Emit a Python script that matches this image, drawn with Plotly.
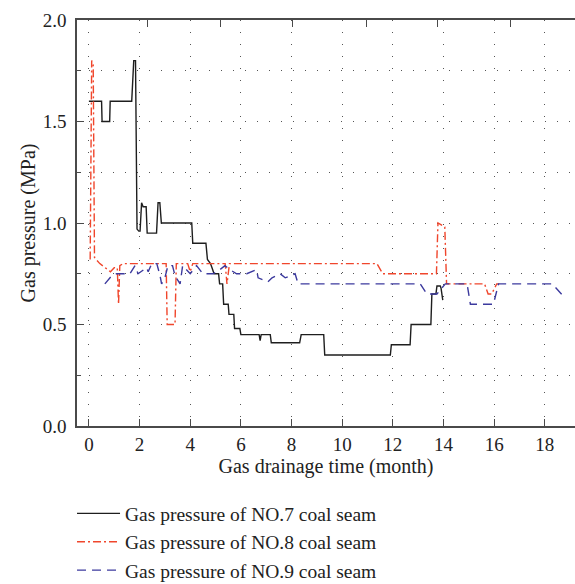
import plotly.graph_objects as go

# NO.7 coal seam (black solid)
t7 = [0.0, 0.50, 0.52, 0.82, 0.84, 1.69, 1.77, 1.84, 1.90, 1.97, 2.02, 2.08, 2.14, 2.26, 2.30,
      2.67, 2.73, 2.80, 2.86, 4.06, 4.10, 4.62, 4.68, 4.80, 4.86, 4.94, 5.12, 5.16, 5.28, 5.32,
      5.50, 5.53, 5.72, 5.75, 5.96, 6.00, 6.72, 6.76, 6.80, 7.16, 7.20, 8.32, 8.38, 9.27, 9.31,
      11.90, 11.94, 12.68, 12.72, 13.50, 13.54, 13.70, 13.74, 13.87, 13.90, 13.97]
p7 = [1.60, 1.60, 1.50, 1.50, 1.60, 1.60, 1.80, 1.80, 0.97, 0.96, 0.96, 1.10, 1.08, 1.08, 0.95,
      0.95, 1.10, 1.10, 1.00, 1.00, 0.90, 0.90, 0.82, 0.80, 0.78, 0.75, 0.75, 0.70, 0.70, 0.60,
      0.60, 0.55, 0.55, 0.48, 0.48, 0.45, 0.45, 0.42, 0.45, 0.45, 0.41, 0.41, 0.45, 0.45, 0.35,
      0.35, 0.40, 0.40, 0.50, 0.50, 0.65, 0.65, 0.69, 0.69, 0.68, 0.62]

# NO.8 coal seam (red dash-dot)
t8 = [0.05, 0.11, 0.17, 0.22, 0.43, 0.85, 1.00, 1.12, 1.17, 1.22, 1.35, 3.05, 3.09, 3.40, 3.45,
      3.90, 4.00, 4.10, 5.38, 5.45, 5.55, 11.37, 11.60, 13.72, 13.78, 14.05, 14.12, 15.62, 15.76,
      15.90, 16.10, 16.20]
p8 = [0.82, 1.80, 1.78, 0.83, 0.80, 0.76, 0.78, 0.78, 0.60, 0.79, 0.80, 0.80, 0.50, 0.50, 0.80,
      0.80, 0.76, 0.80, 0.80, 0.70, 0.80, 0.80, 0.75, 0.75, 1.00, 0.98, 0.70, 0.70, 0.65,
      0.65, 0.70, 0.70]

# NO.9 coal seam (blue dashed)
t9 = [0.63, 0.90, 1.09, 1.62, 1.82, 1.94, 2.28, 2.34, 2.48, 2.68, 2.81, 2.87, 3.00, 3.12, 3.30,
      3.40, 3.60, 3.70, 4.00, 4.25, 4.50, 4.90, 5.17, 5.37, 5.57, 5.83, 6.23, 6.62, 6.68, 7.07,
      7.23, 7.55, 7.75, 8.14, 8.26, 13.08, 13.34, 13.74, 14.07, 14.93, 15.06, 15.97, 16.17,
      18.29, 18.73]
p9 = [0.70, 0.74, 0.75, 0.75, 0.79, 0.75, 0.78, 0.76, 0.80, 0.80, 0.74, 0.70, 0.73, 0.79, 0.79,
      0.74, 0.70, 0.79, 0.75, 0.79, 0.75, 0.75, 0.77, 0.79, 0.77, 0.75, 0.75, 0.77, 0.73, 0.71,
      0.73, 0.75, 0.73, 0.75, 0.70, 0.70, 0.65, 0.65, 0.70, 0.70, 0.60, 0.60, 0.70,
      0.70, 0.64]

x_ticks = [0, 2, 4, 6, 8, 10, 12, 14, 16, 18]
top_ticks = [2.33, 5.21, 8.05, 10.94, 13.78, 16.66]
names = ["Gas pressure of NO.7 coal seam",
         "Gas pressure of NO.8 coal seam",
         "Gas pressure of NO.9 coal seam"]

FONT = "Liberation Serif"
AX = "#4a4a4a"
GRID = "#555555"

fig = go.Figure()
fig.add_trace(go.Scatter(x=t7, y=p7, mode="lines", name=names[0],
                         line=dict(color="#1e1e1e", width=1.4)))
fig.add_trace(go.Scatter(x=t8, y=p8, mode="lines", name=names[1],
                         line=dict(color="#f0462c", width=1.4, dash="8px,3px,2px,3px")))
fig.add_trace(go.Scatter(x=t9, y=p9, mode="lines", name=names[2],
                         line=dict(color="#3c3a9e", width=1.4, dash="9px,6px")))
fig.add_trace(go.Scatter(x=[], y=[], xaxis="x2", showlegend=False, hoverinfo="skip"))

xr = [-0.47, 19.19]
fig.update_layout(
    width=575, height=584,
    margin=dict(l=77, r=0, t=20, b=158, autoexpand=False),
    paper_bgcolor="white", plot_bgcolor="white",
    font=dict(family=FONT, size=19, color="#222"),
    showlegend=True,
    legend=dict(x=-0.01, y=-0.168, xanchor="left", yanchor="top",
                font=dict(family=FONT, size=19.5, color="#222"),
                itemwidth=43, bgcolor="rgba(0,0,0,0)"),
    xaxis=dict(range=xr, tickvals=x_ticks, ticks="inside", ticklen=7, tickcolor=AX,
               showline=True, linecolor=AX, linewidth=1.5, automargin=False,
               showgrid=True, gridcolor=GRID, griddash="1px,11px", gridwidth=1,
               zeroline=False, ticklabelstandoff=0,
               title=dict(text="Gas drainage time (month)", font=dict(size=20), standoff=4)),
    xaxis2=dict(range=xr, overlaying="x", side="top", tickvals=top_ticks,
                ticks="inside", ticklen=7, tickcolor=AX, showticklabels=False, automargin=False,
                showline=True, linecolor=AX, linewidth=1.5, showgrid=False, zeroline=False),
    yaxis=dict(range=[0, 2.0], dtick=0.5, tickformat=".1f", ticks="inside", ticklen=7,
               tickcolor=AX, showline=True, linecolor=AX, linewidth=1.5, automargin=False,
               showgrid=True, gridcolor=GRID, griddash="1px,11px", gridwidth=1,
               zeroline=False, ticklabelstandoff=5,
               minor=dict(dtick=0.25, ticks="inside", ticklen=4, tickcolor=AX,
                          showgrid=True, gridcolor=GRID, griddash="1px,11px", gridwidth=1),
               title=dict(text="Gas pressure (MPa)", font=dict(size=20), standoff=2)),
)

fig.write_html("out.html", config={"displayModeBar": False},
               post_script="document.body.style.margin='0';")
